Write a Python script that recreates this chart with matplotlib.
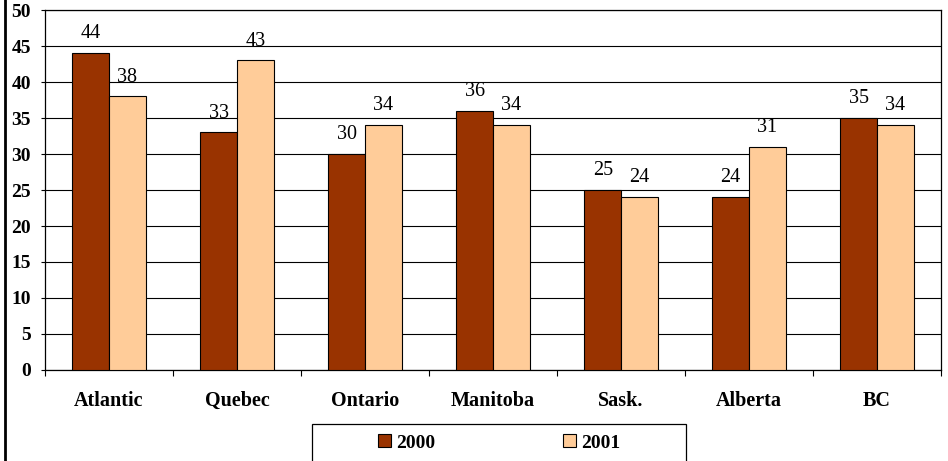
import numpy as np
import matplotlib
matplotlib.use('Agg')
import matplotlib.pyplot as plt
from matplotlib.patches import Rectangle, Patch
from matplotlib.lines import Line2D

# Data
regions = ['Atlantic', 'Quebec', 'Ontario', 'Manitoba', 'Sask.', 'Alberta', 'BC']
vals_2000 = [44, 33, 30, 36, 25, 24, 35]
vals_2001 = [38, 43, 34, 34, 24, 31, 34]
series_names = ['2000', '2001']
yticks = [0, 5, 10, 15, 20, 25, 30, 35, 40, 45, 50]

c2000 = '#993300'
c2001 = '#FFCC99'

plt.rcParams['font.family'] = ['Liberation Serif', 'DejaVu Serif']

fig = plt.figure(figsize=(9.48, 4.61), dpi=100)
ax = fig.add_axes([45/948, 1 - 370/461, 896/948, 360/461])

x = np.arange(len(regions))
w = 1 / 3.5  # Excel gap width 150%
b1 = ax.bar(x - w/2, vals_2000, w, color=c2000, edgecolor='black', linewidth=0.8, zorder=3)
b2 = ax.bar(x + w/2, vals_2001, w, color=c2001, edgecolor='black', linewidth=0.8, zorder=3)
ax.bar_label(b1, padding=7, fontsize=14.5)
ax.bar_label(b2, padding=7, fontsize=14.5)

ax.set_xlim(-0.5, len(regions) - 0.5)
ax.set_ylim(0, 50)
ax.set_yticks(yticks)
ax.set_yticklabels([str(t) for t in yticks], fontweight='bold', fontsize=14)
ax.set_xticks(x)
ax.set_xticklabels(regions, fontweight='bold', fontsize=14.5)
ax.set_xticks(np.arange(len(regions) + 1) - 0.5, minor=True)
ax.tick_params(axis='x', which='major', length=0, pad=15)
ax.tick_params(axis='x', which='minor', length=4, width=0.8, direction='out')
ax.tick_params(axis='y', length=3, width=0.8, pad=7)
ax.yaxis.grid(True, color='black', linewidth=0.8, zorder=0)
ax.set_axisbelow(True)
for s in ax.spines.values():
    s.set_linewidth(0.9)
    s.set_color('black')

# legend box
handles = [Patch(facecolor=c2000, edgecolor='black', linewidth=0.8),
           Patch(facecolor=c2001, edgecolor='black', linewidth=0.8)]
leg = fig.legend(handles, series_names, ncol=2, loc='center',
                 bbox_to_anchor=(499/948, 1 - 443/461), frameon=False,
                 columnspacing=6.6, handlelength=0.65, handleheight=0.65,
                 handletextpad=0.25, prop={'weight': 'bold', 'size': 14})
fig.patches.append(Rectangle((312/948, -0.05), 374/948, 0.05 + 37/461,
                             transform=fig.transFigure, fill=False,
                             edgecolor='black', linewidth=0.9))

# left border of the chart frame
fig.add_artist(Line2D([5/948, 5/948], [0, 1], color='black', linewidth=2,
                      transform=fig.transFigure))

fig.savefig('out.png', dpi=100)
